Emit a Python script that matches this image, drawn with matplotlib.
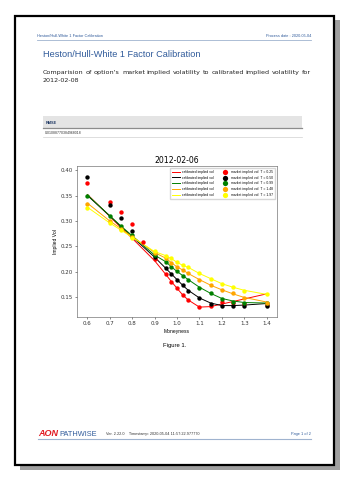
import matplotlib
matplotlib.use("Agg")
import matplotlib.pyplot as plt
import matplotlib.patches as patches
import numpy as np

plt.rcParams['font.family'] = ['Liberation Sans', 'DejaVu Sans']

W, H = 349, 482

# strikes / moneyness grid
moneyness = [0.6, 0.7, 0.75, 0.8, 0.85, 0.9, 0.95, 0.975, 1.0, 1.025, 1.05,
             1.1, 1.15, 1.2, 1.25, 1.3, 1.4]

maturities = ['0.25', '0.50', '0.99', '1.48', '1.97']
colors = ['red', 'black', 'green', 'orange', 'yellow']

nan = np.nan
market_025 = [0.374, 0.338, 0.3175, 0.294, 0.259, 0.2245, 0.196, 0.181, 0.169,
              0.1545, 0.1445, 0.131, 0.133, 0.141, 0.140, 0.138, 0.136]
market_050 = [0.387, 0.331, 0.305, 0.2795, nan, 0.229, 0.207, 0.196, 0.184,
              0.174, 0.163, 0.149, 0.138, 0.133, 0.133, 0.133, 0.133]
market_099 = [0.350, 0.310, 0.290, 0.272, nan, 0.233, 0.220, 0.210, 0.201,
              0.193, 0.184, 0.169, 0.158, 0.147, 0.141, 0.139, 0.139]
market_148 = [0.333, 0.300, 0.2847, 0.268, nan, 0.2376, 0.2265, 0.218, 0.210,
              0.2035, 0.197, 0.185, 0.174, 0.1655, 0.158, 0.149, 0.139]
market_197 = [0.325, 0.296, 0.2815, 0.267, nan, 0.2415, 0.232, 0.2265, 0.219,
              0.213, 0.209, 0.197, 0.187, 0.177, 0.170, 0.163, 0.156]

calib_025 = [0.352, 0.309, 0.287, 0.266, 0.244, 0.222, 0.195, 0.181, 0.168,
             0.155, 0.145, 0.131, 0.132, 0.137, 0.142, 0.147, 0.157]
calib_050 = [0.350, 0.310, 0.289, 0.269, 0.249, 0.229, 0.207, 0.196, 0.185,
             0.174, 0.164, 0.149, 0.139, 0.134, 0.134, 0.135, 0.138]
calib_099 = [0.351, 0.310, 0.290, 0.271, 0.252, 0.233, 0.220, 0.210, 0.201,
             0.193, 0.185, 0.170, 0.158, 0.148, 0.143, 0.140, 0.139]
calib_148 = [0.335, 0.300, 0.285, 0.269, 0.254, 0.238, 0.227, 0.218, 0.210,
             0.204, 0.197, 0.185, 0.174, 0.165, 0.157, 0.150, 0.141]
calib_197 = [0.327, 0.296, 0.282, 0.268, 0.254, 0.240, 0.232, 0.226, 0.219,
             0.213, 0.209, 0.197, 0.187, 0.177, 0.170, 0.164, 0.156]

market = [market_025, market_050, market_099, market_148, market_197]
calib = [calib_025, calib_050, calib_099, calib_148, calib_197]

rmse = '0.01088770384968018'
intro = ("Comparision of option's market implied volatility to calibrated "
         "implied volatility for")


def fx(x):
    return x / W


def fy(y):
    return 1 - y / H


def justified(fig, text, x0, x1, y, **kw):
    # lay words out so the line fills x0..x1 (pixels)
    words = text.split()
    r = fig.canvas.get_renderer()
    arts, widths = [], []
    for w in words:
        t = fig.text(0, fy(y), w, va='baseline', **kw)
        arts.append(t)
        widths.append(t.get_window_extent(r).width)
    gap = (x1 - x0 - sum(widths)) / (len(words) - 1)
    x = x0
    for t, w in zip(arts, widths):
        t.set_x(fx(x))
        x += w + gap


fig = plt.figure(figsize=(W / 100, H / 100), dpi=100)
fig.patch.set_facecolor('white')

# page shadow and frame
fig.add_artist(patches.Rectangle((fx(20), fy(470)), fx(340) - fx(20), fy(20) - fy(470),
                                 transform=fig.transFigure, facecolor='#a0a0a0',
                                 edgecolor='none', zorder=0))
fig.add_artist(patches.Rectangle((fx(15), fy(465)), fx(334) - fx(15), fy(16) - fy(465),
                                 transform=fig.transFigure, facecolor='white',
                                 edgecolor='black', linewidth=1.6, zorder=0.5))

blue = '#2f5a9a'

# running header
fig.text(fx(37), fy(37), 'Heston/Hull-White 1 Factor Calibration', fontsize=2.8,
         color=blue, va='baseline')
fig.text(fx(311), fy(37), 'Process date : 2020-05-04', fontsize=2.8,
         color=blue, va='baseline', ha='right')
fig.add_artist(plt.Line2D([fx(37), fx(311)], [fy(39.5), fy(39.5)], color='#9fb3cf',
                          linewidth=0.6, transform=fig.transFigure))

fig.text(fx(43), fy(57), 'Heston/Hull-White 1 Factor Calibration', fontsize=6.6,
         color=blue, va='baseline')
justified(fig, intro, 43, 311, 74, fontsize=4.6, color='#222222',
          family='DejaVu Sans')
fig.text(fx(43), fy(82), '2012-02-08', fontsize=4.6, color='#222222', va='baseline',
         family='DejaVu Sans')

# RMSE table
fig.add_artist(patches.Rectangle((fx(43), fy(128)), fx(302) - fx(43), fy(116) - fy(128),
                                 transform=fig.transFigure, facecolor='#e4e4e4',
                                 edgecolor='none'))
fig.add_artist(plt.Line2D([fx(43), fx(302)], [fy(128), fy(128)], color='#8c8c8c',
                          linewidth=0.9, transform=fig.transFigure))
fig.text(fx(46), fy(124), 'RMSE', fontsize=2.8, color='#1f3864', weight='bold',
         va='baseline')
fig.text(fx(45), fy(134), rmse, fontsize=2.5, color='#333333', va='baseline')
fig.add_artist(plt.Line2D([fx(43), fx(302)], [fy(137), fy(137)], color='#d0d0d0',
                          linewidth=0.5, transform=fig.transFigure))

# volatility chart
ax = fig.add_axes([fx(76.7), fy(317.3), fx(276.7) - fx(76.7), fy(166) - fy(317.3)])
ax.set_zorder(2)
for c, vals in zip(colors, calib):
    ax.plot(moneyness, vals, color=c, linewidth=0.7, label='calibrated implied vol')
for c, t, vals in zip(colors, maturities, market):
    ax.scatter(moneyness, vals, color=c, s=10, zorder=3, linewidths=0,
               label='market implied vol. T = ' + t)

ax.set_xlim(0.552, 1.445)
ax.set_ylim(0.111, 0.408)
ax.set_xticks([0.6, 0.7, 0.8, 0.9, 1.0, 1.1, 1.2, 1.3, 1.4])
ax.set_yticks([0.15, 0.20, 0.25, 0.30, 0.35, 0.40])
ax.yaxis.set_major_formatter(matplotlib.ticker.FormatStrFormatter('%.2f'))
ax.tick_params(labelsize=4, length=1.5, width=0.4, pad=1.5, colors='#333333')
for sp in ax.spines.values():
    sp.set_linewidth(0.4)
    sp.set_color('#555555')
ax.set_title('2012-02-06', fontsize=5.6, pad=2.5, family='DejaVu Sans')
ax.set_xlabel('Moneyness', fontsize=3.6, labelpad=1.5)
ax.set_ylabel('Implied Vol', fontsize=3.6, labelpad=2)
for lab in ax.get_xticklabels() + ax.get_yticklabels():
    lab.set_family('DejaVu Sans')

ax.legend(ncol=2, loc='upper right', fontsize=2.4, frameon=True, fancybox=False,
          edgecolor='#cccccc', handlelength=2.3, handletextpad=0.8, markerscale=1.2,
          borderpad=0.6, labelspacing=0.55, columnspacing=2.0)

fig.text(0.5, fy(347), 'Figure 1.', fontsize=4.2, ha='center', va='baseline')

# footer
fig.text(fx(38), fy(436), 'AON', fontsize=6.5, color='#e11b22', weight='bold',
         style='italic', va='baseline')
fig.text(fx(59), fy(436), 'PATHWISE', fontsize=5.3, color='#2f5a9a', va='baseline')
fig.text(fx(106), fy(435.5), 'Ver. 2.22.0    Timestamp: 2020-05-04 11:57:22.977770',
         fontsize=2.8, color='#333333', va='baseline')
fig.text(fx(311), fy(435.5), 'Page 1 of 2', fontsize=2.8, color=blue,
         va='baseline', ha='right')
fig.add_artist(plt.Line2D([fx(38), fx(311)], [fy(438.5), fy(438.5)], color='#9fb3cf',
                          linewidth=0.8, transform=fig.transFigure))

fig.savefig('out.png', dpi=100)
